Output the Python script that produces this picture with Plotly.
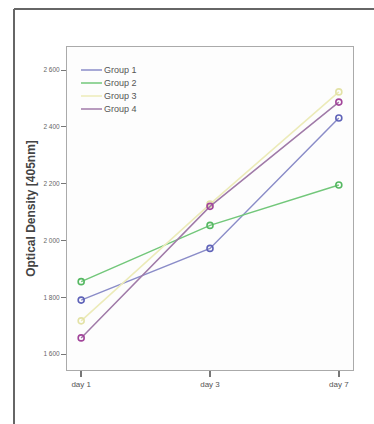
import plotly.graph_objects as go

days = ["day 1", "day 3", "day 7"]
groups = ["Group 1", "Group 2", "Group 3", "Group 4"]
group1 = [1790, 1972, 2431]
group2 = [1855, 2053, 2195]
group3 = [1717, 2128, 2523]
group4 = [1657, 2120, 2487]
ytick_vals = [1600, 1800, 2000, 2200, 2400, 2600]
ytick_text = ["1 600", "1 800", "2 000", "2 200", "2 400", "2 600"]

series = [group1, group2, group3, group4]
line_colors = ["#8a8cc8", "#72c77a", "#ecebb8", "#a07aa8"]
marker_colors = ["#5f63b8", "#55b862", "#e3e2a6", "#a2459a"]

W, H = 374, 424
L, R, T, B = 67, 21, 47, 54
pw, ph = W - L - R, H - T - B

def px_x(x):
    return (x - L) / pw

def px_y(y):
    return (H - B - y) / ph

fig = go.Figure()
for name, vals, lc, mc in zip(groups, series, line_colors, marker_colors):
    fig.add_trace(go.Scatter(
        x=days, y=vals, mode="lines+markers", name=name, showlegend=False,
        line=dict(color=lc, width=1.5),
        marker=dict(symbol="circle-open", size=6, color=mc, line=dict(width=1.6, color=mc)),
    ))

# compact legend (SPSS style): short line + label
shapes = []
annotations = []
legend_rows = [70, 83, 96, 109]
for name, lc, yy in zip(groups, line_colors, legend_rows):
    shapes.append(dict(type="line", xref="paper", yref="paper",
                       x0=px_x(81), x1=px_x(102), y0=px_y(yy), y1=px_y(yy),
                       line=dict(color=lc, width=1.5)))
    annotations.append(dict(text=name, xref="paper", yref="paper",
                            x=px_x(102), y=px_y(yy), xanchor="left", yanchor="middle",
                            showarrow=False, font=dict(size=9, color="#555")))

# outer frame (left and top)
shapes.append(dict(type="line", xref="paper", yref="paper", x0=px_x(14), x1=px_x(14),
                   y0=px_y(9), y1=px_y(430), line=dict(color="#666", width=2)))
shapes.append(dict(type="line", xref="paper", yref="paper", x0=px_x(14), x1=px_x(380),
                   y0=px_y(9), y1=px_y(9), line=dict(color="#666", width=2)))

fig.update_layout(
    width=W, height=H,
    margin=dict(l=L, r=R, t=T, b=B),
    paper_bgcolor="white", plot_bgcolor="#fdfdfd",
    font=dict(family="Liberation Sans, Arial, sans-serif", color="#555"),
    showlegend=False,
    xaxis=dict(range=[-0.11, 2.11], showgrid=False, zeroline=False,
               showline=True, linecolor="#aaa", linewidth=1, mirror=True,
               ticks="outside", ticklen=6, tickcolor="#777", tickwidth=1.5,
               tickfont=dict(size=8, color="#555")),
    yaxis=dict(range=[1544, 2681], showgrid=False, zeroline=False,
               showline=True, linecolor="#aaa", linewidth=1, mirror=True,
               tickvals=ytick_vals, ticktext=ytick_text,
               ticks="outside", ticklen=5, tickcolor="#777", tickwidth=1.2,
               tickfont=dict(size=6.5, color="#666"),
               title=dict(text="<b>Optical Density [405nm]</b>",
                          font=dict(size=12, color="#444"), standoff=5)),
    shapes=shapes,
    annotations=annotations,
)

fig.write_html("out.html", config={"displayModeBar": False},
               post_script="document.body.style.margin='0';")
